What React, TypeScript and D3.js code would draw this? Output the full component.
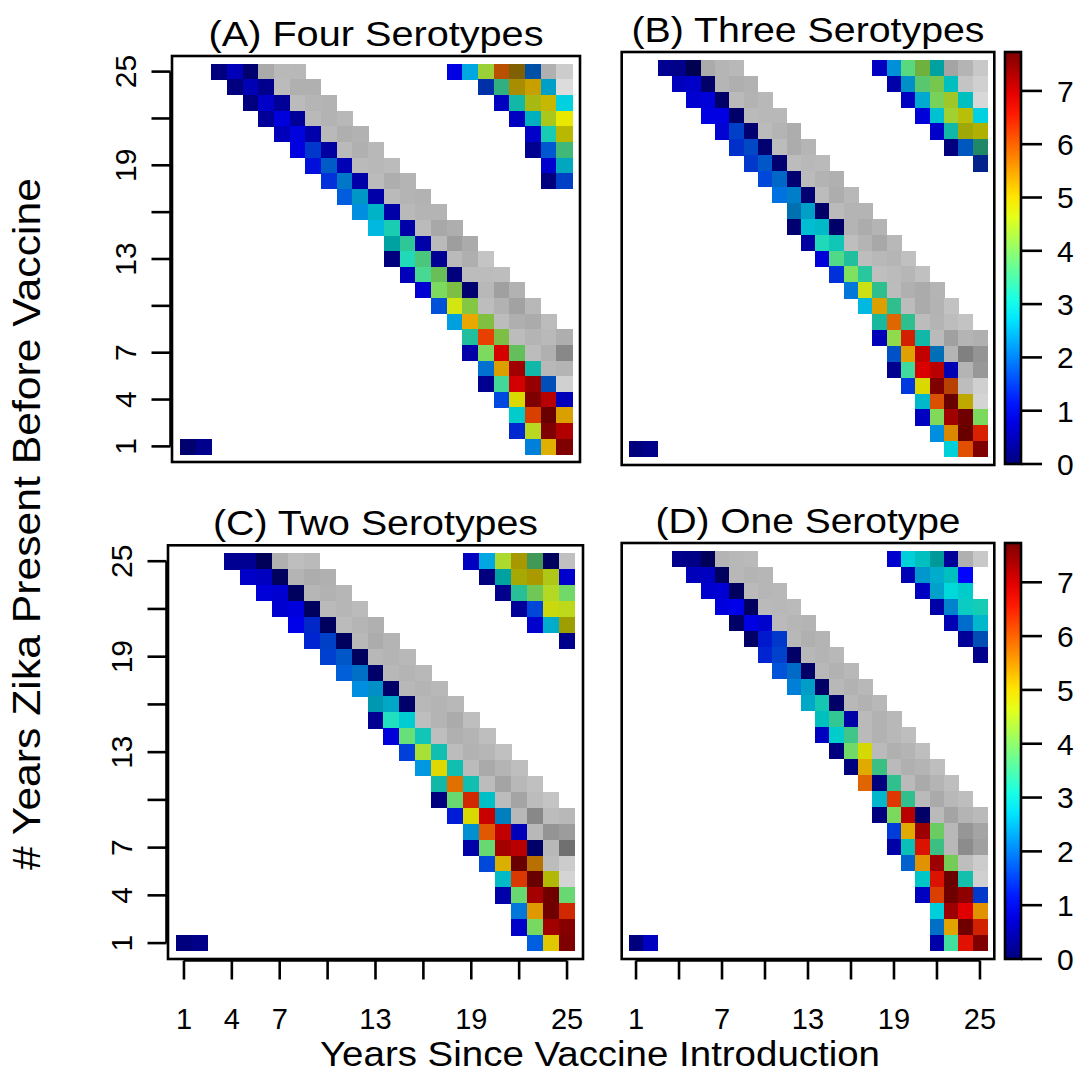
import React from "react";
import * as d3 from "d3";

// ---------------- DATA ----------------
// Row format: "y|startColumn|values"; value = jet level (0..7.73),
// "v*s" = level v with shade factor s, "gNNN" = grey cell of intensity NNN.
const vmax = 7.73;
const jetStops = ["#00007F", "#0000FF", "#007FFF", "#00FFFF", "#7FFF7F", "#FFFF00", "#FF7F00", "#FF0000", "#7F0000"];

const panelTitles = ["(A) Four Serotypes", "(B) Three Serotypes", "(C) Two Serotypes", "(D) One Serotype"];
const yTicks = [1, 4, 7, 10, 13, 16, 19, 22, 25];
const yTickLabels = [1, 4, 7, 13, 19, 25];
const xTicks = [1, 4, 7, 10, 13, 16, 19, 22, 25];
const xTickLabelsLeft = [1, 4, 7, 13, 19, 25];
const xTickLabelsRight = [1, 7, 13, 19, 25];
const legendTicks = [0, 1, 2, 3, 4, 5, 6, 7];
const xTitle = "Years Since Vaccine Introduction";
const yTitle = "# Years Zika Present Before Vaccine";

const rowsA = [
  "25|3|0 0.45 0*.87 g170 g185 g184",
  "24|4|0 0.4 0.1 g187 g176 g176",
  "23|5|0 0.55 0.2 g187 g181 g179",
  "22|6|0.2 0.7 0.2 g185 g179 g184",
  "21|7|0.45 1.0*.87 0.33 g185 g175 g178",
  "20|8|0.73 1.5*.8 0.25 g186 g176 g184",
  "19|9|1.1*.86 1.86*.78 0.4 g186 g184 g187",
  "18|10|1.4*.86 2.13*.78 0.32 g187 g174 g180",
  "17|11|1.78*.87 2.44*.78 0.32 g186 g180 g178",
  "16|12|2.2*.88 2.7*.78 0.32 g185 g180 g180",
  "15|13|2.55*.88 3.15*.8 0.32 g187 g168 g174",
  "14|14|2.9*.63 3.35*.78 0.32 g186 g158 g171",
  "13|14|0 3.19*.85 3.63*.78 0.15 g186 g175 g196",
  "12|15|0.45 3.54*.85 3.95*.75 0 g188 g188 g189",
  "11|16|0.65 3.99*.86 4.15*.75 0*.88 g184 g160 g178",
  "10|17|1.68*.85 4.69*.9 4.18*.78 g189 g178 g162 g184",
  "9|18|2.34*.88 5.36*.91 4.19*.75 g188 g175 g171 g188",
  "8|19|3.23*.75 6.23*.91 4.15*.75 g188 g180 g185 g174",
  "7|19|0.32 3.99*.86 7.07 3.9*.75 g188 g176 g136",
  "6|20|2.0*.82 5.35*.86 7.48 3.07*.72 g184 g180",
  "5|20|0.13 3.47*.85 7.1 7.55 1.8*.72 g208",
  "4|21|1.6*.88 4.83*.85 7.73 7.3 0.45",
  "3|22|2.9*.8 6.19*.85 7.73*.82 5.34*.85",
  "2|22|1.34*.82 4.54*.85 7.73 7.35",
  "1|23|2.1*.86 5.25*.88 7.73",
  "1|1|0*.87 0.1",
  "25|18|0.75 2.41*.88 4.33*.82 5.92*.72 5.31*.5 1.89*.66 g176 g204",
  "24|20|1.52*.66 3.43*.69 5.15*.66 5.21*.78 2.51*.78 g220",
  "23|21|0.5 3.07*.72 4.66*.72 4.98*.78 2.76*.88",
  "22|22|0.5 2.75*.75 4.57*.78 4.83*.91",
  "21|23|0.55 3.13*.8 4.83*.72",
  "20|23|0.13 1.78*.82 3.57*.72",
  "19|24|0.6 2.66*.75",
  "18|24|0 1.59*.78",
];

const rowsB = [
  "25|3|0.13 0.07 0*.63 g171 g181 g184",
  "24|4|0.47 0.55 0*.82 g181 g175 g178",
  "23|5|0.62 0.68 0*.82 g186 g179 g184",
  "22|6|0.75 0.75 0*.82 g186 g184 g184",
  "21|7|1.0*.82 1.59*.78 0*.88 g187 g180 g173",
  "20|8|1.42*.8 1.68*.77 0*.88 g188 g172 g181",
  "19|9|1.5*.8 1.82*.78 0*.88 g188 g184 g186",
  "18|10|1.61*.85 1.97*.78 0*.88 g187 g179 g176",
  "17|11|1.94*.88 2.2*.78 0*.88 g188 g173 g184",
  "16|12|2.2*.69 2.51*.78 0*.82 g187 g180 g180",
  "15|12|0*.88 2.71*.82 2.78*.78 0*.82 g180 g172 g180",
  "14|13|0.25 3.19*.85 3.05*.78 g190 g180 g168 g184",
  "13|14|0.68 3.61*.85 3.23*.75 g189 g184 g181 g192",
  "12|15|1.39*.85 4.0*.88 3.29*.78 g191 g187 g182 g192",
  "11|16|2.03*.85 4.66*.88 3.38*.75 g188 g176 g171 g180",
  "10|17|2.55*.88 5.35*.86 3.38*.75 g188 g171 g179 g194",
  "9|18|3.16*.72 5.87*.88 3.38*.75 g188 g180 g189 g195",
  "8|18|0.45 4.17*.86 6.46*.82 3.07*.72 g186 g160 g180 g176",
  "7|19|1.74*.78 5.38*.88 7.23 2.14*.72 g180 g128 g148",
  "6|19|0.13 3.46*.86 7.04 7.3 0.4 g180 g152",
  "5|20|1.45*.88 4.83*.85 7.73 6.09*.72 g189 g208",
  "4|21|2.71*.8 6.05*.85 7.73*.82 5.06*.75 g212",
  "3|21|0.5 4.04*.85 7.48 7.73*.88 4.0*.85",
  "2|22|2.2*.88 5.55*.85 7.73*.82 6.47*.85",
  "1|23|2.82*.85 6.07*.88 7.73",
  "1|1|0 0.07",
  "25|18|0.5 2.25*.85 3.69*.85 4.13*.69 2.9*.63 g164 g180 g200",
  "24|19|0.32 2.36*.78 3.76*.78 4.06*.78 2.9*.75 g196 g208",
  "23|20|0.5 2.53*.82 4.01*.82 4.45*.78 2.9*.75 g216",
  "22|21|0.68 2.75*.82 4.38*.82 4.76*.75 2.76*.88",
  "21|22|0.55 3.07*.72 4.74*.66 4.83*.69",
  "20|23|0 1.85*.75 3.36*.53",
  "19|25|1.45*.55",
];

const rowsC = [
  "25|4|0.15 0.15 0*.7 g176 g190 g186",
  "24|5|0.55 0.5 0*.75 g180 g173 g176",
  "23|6|0.68 0.62 0*.75 g182 g178 g182",
  "22|7|0.62 0.7 0*.75 g186 g182 g187",
  "21|8|0.8 1.35*.78 0*.75 g187 g181 g176",
  "20|9|1.3*.82 1.59*.78 0*.75 g184 g172 g180",
  "19|10|1.56*.82 1.82*.78 0*.75 g184 g180 g184",
  "18|11|1.82*.85 2.05*.78 0*.82 g184 g180 g184",
  "17|12|2.2*.88 2.36*.78 0*.82 g184 g180 g184",
  "16|13|2.64*.69 2.59*.78 0*.82 g184 g180 g184",
  "15|13|0.15 3.18*.88 2.86*.82 g190 g180 g171 g190",
  "14|14|0.68 3.79*.88 3.05*.78 g190 g176 g180 g190",
  "13|15|1.53*.85 4.35*.88 3.06*.75 g188 g178 g182 g192",
  "12|16|2.28*.88 4.9*.88 3.06*.75 g187 g170 g180 g190",
  "11|17|3.07*.72 5.8*.88 3.06*.75 g188 g164 g184 g192",
  "10|17|0 3.83*.85 6.39*.82 2.82*.78 g188 g164 g188 g196",
  "9|18|1.2*.85 4.83*.85 7.17 2.25*.75 g184 g136 g188 g184",
  "8|19|2.3*.82 6.0*.88 7.23 0.9*.75 g184 g148 g156",
  "7|19|0.32 3.83*.85 7.44 7.3 0*.82 g184 g112",
  "6|20|1.61*.85 5.19*.85 7.73*.82 5.58*.72 g188 g204",
  "5|21|2.78*.78 6.26*.85 7.73*.82 4.76*.72 g212",
  "4|21|0.32 3.83*.85 7.44 7.73*.88 3.83*.85",
  "3|22|2.03*.85 5.45*.88 7.73*.88 6.39*.82",
  "2|22|0.55 3.97*.85 7.48 7.68",
  "1|23|1.79*.88 5.04*.88 7.73",
  "1|1|0 0.07",
  "25|19|0.5 2.41*.88 4.43*.85 5.01*.66 3.72*.6 0*.75 g192",
  "24|20|0 2.9*.63 4.8*.66 5.0*.66 4.6*.78 0.6",
  "23|21|0.1 3.3*.75 4.0*.78 4.5*.85 3.9*.85",
  "22|22|0.2 1.6*.85 4.7*.85 4.6*.85",
  "21|23|0.6 2.6*.8 4.8*.62",
  "20|25|0.1",
];

const rowsD = [
  "25|4|0.1 0.05 0*.7 g180 g184 g186",
  "24|5|0.45 0.5 0*.75 g184 g180 g182",
  "23|6|0.6 0.65 0*.75 g186 g182 g184",
  "22|7|0.7 0.8 0*.75 g186 g184 g186",
  "21|8|0*.8 0.75 1.0*.8 g186 g182 g180",
  "20|9|0*.8 1.2*.8 1.5*.8 g184 g176 g180",
  "19|10|1.3*.82 1.6*.8 0*.8 g184 g180 g184",
  "18|11|1.7*.85 2.0*.78 0*.8 g184 g178 g184",
  "17|12|2.1*.85 2.5*.78 0*.8 g184 g178 g184",
  "16|13|2.6*.78 3.1*.78 0*.8 g184 g178 g184",
  "15|14|2.9*.75 3.4*.78 0.3 g186 g178 g184",
  "14|14|0.5 2.9*.8 3.5*.78 g186 g178 g184 g190",
  "13|15|0 3.9*.85 4.8*.85 g186 g176 g180 g190",
  "12|16|0 5.3*.88 3.5*.75 g186 g176 g180 g190",
  "11|17|5.9*.88 0 3.4*.75 g186 g170 g180 g190",
  "10|18|2.7*.8 6.3*.88 3.4*.75 g186 g170 g184 g190",
  "9|18|0 4.0*.85 7.3 0*.8 g186 g164 g180 g186",
  "8|19|1.5*.85 5.3*.88 7.5 3.9*.8 g184 g150 g164",
  "7|19|0.3 3.0*.75 6.6*.85 3.5*.75 g184 g140 g160",
  "6|20|1.9*.8 5.5*.88 7.5 4.0*.8 g190 g204",
  "5|21|2.9*.78 6.6*.85 7.7*.82 3.1*.75 g208",
  "4|21|0.5 6.2*.85 7.7*.85 7.6 1.5*.8",
  "3|22|2.8*.85 7.5 7.0 5.5*.88",
  "2|22|2.05*.78 5.36*.88 7.73*.88 6.46*.82",
  "1|22|0.32 3.46*.88 6.62*.88 7.73",
  "1|1|0 0.5",
  "25|19|0.6 2.8*.85 2.9*.75 2.9*.6 0.2 g176 g200",
  "24|20|0.4 2.4*.8 2.6*.8 2.9*.75 1.0",
  "23|21|0.5 2.5*.8 2.9*.85 2.9*.8",
  "22|22|0.3 2.2*.8 3.0*.8 3.1*.8",
  "21|23|0.4 2.0*.8 2.7*.8",
  "20|24|0.2 1.8*.7",
  "19|25|0.1",
];

// ---------------- LAYOUT ----------------
const W = 1082, H = 1074;
const FONT = "'Liberation Sans', Arial, Helvetica, sans-serif";

type Box = { x0: number; x1: number; y0: number; y1: number };
const panels: { rows: string[]; box: Box; title: string; yAxis: boolean; xAxis: boolean; xLabels: number[]; titleLen: number }[] = [
  { rows: rowsA, box: { x0: 172, x1: 580, y0: 56, y1: 462 }, title: panelTitles[0], yAxis: true, xAxis: false, xLabels: [], titleLen: 335 },
  { rows: rowsB, box: { x0: 621.7, x1: 994.3, y0: 52, y1: 465 }, title: panelTitles[1], yAxis: false, xAxis: false, xLabels: [], titleLen: 353 },
  { rows: rowsC, box: { x0: 168, x1: 583, y0: 545.3, y1: 959 }, title: panelTitles[2], yAxis: true, xAxis: true, xLabels: xTickLabelsLeft, titleLen: 325 },
  { rows: rowsD, box: { x0: 621.7, x1: 994.3, y0: 543, y1: 959 }, title: panelTitles[3], yAxis: false, xAxis: true, xLabels: xTickLabelsRight, titleLen: 305 },
];

const jet = d3.scaleLinear<string>()
  .domain(jetStops.map((_, i) => (i * vmax) / (jetStops.length - 1)))
  .range(jetStops)
  .interpolate(d3.interpolateRgb)
  .clamp(true);

type Cell = { x: number; y: number; color: string };

function parseRows(rows: string[]): Cell[] {
  const out: Cell[] = [];
  rows.forEach((r) => {
    const [ys, cs, toks] = r.split("|");
    const y = +ys;
    const c0 = +cs;
    toks.trim().split(/\s+/).forEach((t, i) => {
      let color: string;
      if (t[0] === "g") {
        const g = +t.slice(1);
        color = d3.rgb(g, g, g).formatHex();
      } else {
        const [a, s] = t.split("*");
        const base = d3.rgb(jet(+a));
        const k = s ? +s : 1;
        color = d3.rgb(base.r * k, base.g * k, base.b * k).formatHex();
      }
      out.push({ x: c0 + i, y, color });
    });
  });
  return out;
}

function Panel({ p }: { p: (typeof panels)[number] }) {
  const { box } = p;
  const xs = d3.scaleLinear().domain([0, 26]).range([box.x0, box.x1]);
  const ys = d3.scaleLinear().domain([0, 26]).range([box.y1, box.y0]);
  const cells = parseRows(p.rows);
  const cx = (box.x0 + box.x1) / 2;
  const tickLen = 19;
  return (
    <g>
      {cells.map((c, i) => (
        <rect
          key={i}
          x={xs(c.x - 0.5)}
          y={ys(c.y + 0.5)}
          width={xs(c.x + 0.5) - xs(c.x - 0.5) + 0.4}
          height={ys(c.y - 0.5) - ys(c.y + 0.5) + 0.4}
          fill={c.color}
          shapeRendering="crispEdges"
        />
      ))}
      <rect x={box.x0} y={box.y0} width={box.x1 - box.x0} height={box.y1 - box.y0} fill="none" stroke="#000" strokeWidth={2.6} />
      <text x={cx} y={box.y0 - 10} textAnchor="middle" fontFamily={FONT} fontSize={35} textLength={p.titleLen} lengthAdjust="spacingAndGlyphs">
        {p.title}
      </text>
      {p.yAxis && (
        <g>
          <line x1={box.x0 - 1.5} x2={box.x0 - 1.5} y1={ys(1)} y2={ys(25)} stroke="#000" strokeWidth={2.6} />
          {yTicks.map((t) => (
            <line key={t} x1={box.x0 - 1.5} x2={box.x0 - 1.5 - tickLen} y1={ys(t)} y2={ys(t)} stroke="#000" strokeWidth={2.6} />
          ))}
          {yTickLabels.map((t) => (
            <text key={t} transform={`translate(${box.x0 - 36},${ys(t)}) rotate(-90)`} textAnchor="middle" fontFamily={FONT} fontSize={30}>
              {t}
            </text>
          ))}
        </g>
      )}
      {p.xAxis && (
        <g>
          <line x1={xs(1)} x2={xs(25)} y1={box.y1 + 1.5} y2={box.y1 + 1.5} stroke="#000" strokeWidth={2.6} />
          {xTicks.map((t) => (
            <line key={t} x1={xs(t)} x2={xs(t)} y1={box.y1 + 1.5} y2={box.y1 + 1.5 + tickLen} stroke="#000" strokeWidth={2.6} />
          ))}
          {p.xLabels.map((t) => (
            <text key={t} x={xs(t)} y={1029} textAnchor="middle" fontFamily={FONT} fontSize={29}>
              {t}
            </text>
          ))}
        </g>
      )}
    </g>
  );
}

function Legend({ y0, y1, id }: { y0: number; y1: number; id: string }) {
  const ls = d3.scaleLinear().domain([0, vmax]).range([y1, y0]);
  const x0 = 1005, x1 = 1021;
  const stops = d3.range(0, 1.0001, 0.05);
  return (
    <g>
      <defs>
        <linearGradient id={id} x1="0" y1="1" x2="0" y2="0">
          {stops.map((s) => (
            <stop key={s} offset={s} stopColor={jet(s * vmax)} />
          ))}
        </linearGradient>
      </defs>
      <rect x={x0} y={y0} width={x1 - x0} height={y1 - y0} fill={`url(#${id})`} stroke="#000" strokeWidth={2.6} />
      {legendTicks.map((t) => (
        <g key={t}>
          <line x1={x1} x2={x1 + 21} y1={ls(t)} y2={ls(t)} stroke="#000" strokeWidth={2.6} />
          <text x={1057} y={ls(t)} dy="0.36em" fontFamily={FONT} fontSize={30}>
            {t}
          </text>
        </g>
      ))}
    </g>
  );
}

export default function App() {
  return (
    <svg width={W} height={H} viewBox={`0 0 ${W} ${H}`} style={{ position: "absolute", left: 0, top: 0, background: "#fff" }}>
      <rect width={W} height={H} fill="#fff" />
      {panels.map((p, i) => (
        <Panel key={i} p={p} />
      ))}
      <Legend y0={52} y1={464} id="lg1" />
      <Legend y0={543} y1={959} id="lg2" />
      <text x={600} y={1066} textAnchor="middle" fontFamily={FONT} fontSize={35} textLength={560} lengthAdjust="spacingAndGlyphs">
        {xTitle}
      </text>
      <text transform={`translate(40,524) rotate(-90)`} textAnchor="middle" fontFamily={FONT} fontSize={38} textLength={692} lengthAdjust="spacingAndGlyphs">
        {yTitle}
      </text>
    </svg>
  );
}
